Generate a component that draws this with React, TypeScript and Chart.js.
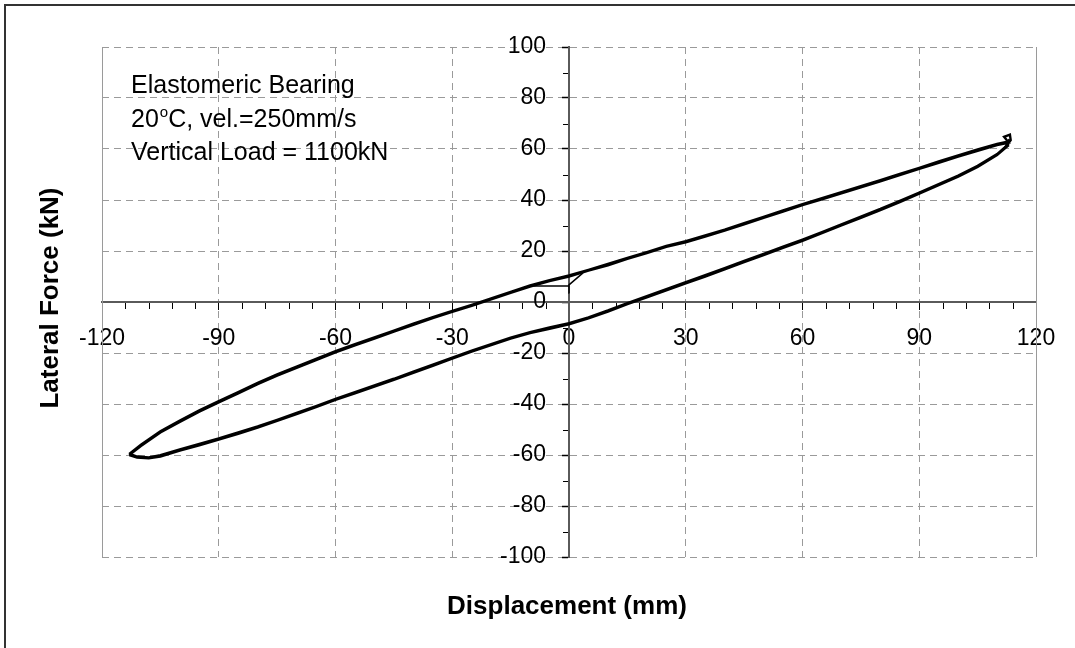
import React, { useEffect, useRef } from 'react';
import { Chart, registerables } from 'chart.js';

Chart.register(...registerables);

// ---- axis ticks ----
const xMajorTicks = [-120, -90, -60, -30, 0, 30, 60, 90, 120];
const yMajorTicks = [-100, -80, -60, -40, -20, 0, 20, 40, 60, 80, 100];

// ---- hysteresis data (displacement mm, lateral force kN) ----
const lowerX = [-113, -111, -108, -105, -100, -95, -90, -85, -80, -75, -70, -65, -60, -55, -50, -45, -40, -35, -30, -25, -20, -15, -10, -5, 0, 5, 10, 15, 20, 25, 30, 35, 40, 45, 50, 55, 60, 65, 70, 75, 80, 85, 90, 95, 100, 105, 110, 113];
const lowerF1 = [-60.0, -61.0, -61.3, -60.6, -58.3, -56.2, -54.0, -51.7, -49.3, -46.6, -44.0, -41.2, -38.4, -35.8, -33.2, -30.5, -27.8, -25.0, -22.2, -19.5, -16.9, -14.4, -12.2, -10.5, -8.8, -6.4, -3.8, -0.8, 1.8, 4.6, 7.3, 10.0, 12.8, 15.6, 18.4, 21.2, 24.0, 27.0, 30.0, 33.0, 36.0, 39.2, 42.5, 45.8, 49.2, 53.0, 57.6, 61.5];
const lowerF2 = [-59.5, -60.6, -61.0, -60.1, -57.8, -55.6, -53.5, -51.1, -48.8, -46.2, -43.5, -40.8, -38.0, -35.3, -32.7, -30.1, -27.3, -24.6, -21.8, -19.1, -16.5, -14.0, -11.8, -10.0, -8.3, -6.0, -3.3, -0.4, 2.3, 5.0, 7.8, 10.5, 13.3, 16.1, 18.9, 21.7, 24.5, 27.4, 30.4, 33.5, 36.5, 39.7, 42.9, 46.2, 49.6, 53.4, 58.0, 62.0];

const upperX = [113, 110, 105, 100, 95, 90, 85, 80, 75, 70, 65, 60, 55, 50, 45, 40, 35, 30, 25, 20, 15, 10, 5, 0, -5, -10, -15, -20, -25, -30, -35, -40, -45, -50, -55, -60, -65, -70, -75, -80, -85, -90, -95, -100, -105, -110, -113];
const upperF1 = [62.5, 61.5, 59.3, 57.0, 54.6, 52.2, 49.8, 47.3, 45.0, 42.6, 40.3, 38.0, 35.4, 33.0, 30.4, 28.0, 25.6, 23.4, 21.6, 19.2, 16.9, 14.4, 12.3, 10.0, 8.2, 6.0, 3.6, 1.0, -1.5, -3.9, -6.3, -9.0, -11.6, -14.4, -17.0, -19.8, -22.8, -25.8, -28.9, -32.2, -35.8, -39.4, -43.0, -47.0, -51.2, -56.5, -60.0];
const upperF2 = [63.0, 62.0, 59.8, 57.5, 55.1, 52.6, 50.2, 47.8, 45.4, 43.1, 40.7, 38.4, 35.9, 33.4, 30.9, 28.4, 26.1, 23.9, 22.0, 19.6, 17.3, 14.9, 12.6, 10.4, 8.6, 6.5, 4.0, 1.4, -1.1, -3.5, -5.9, -8.5, -11.2, -13.9, -16.5, -19.3, -22.3, -25.3, -28.4, -31.7, -35.3, -38.9, -42.5, -46.5, -50.7, -56.0, -59.6];

const tipX1 = [112, 113.5, 113.3, 111.8];
const tipF1 = [60.5, 63.5, 65.6, 64.8];
const tipX2 = [112.5, 113.2];
const tipF2 = [61.5, 63.8];

const startX = [0.1, 0, 3.6];
const startF = [3.5, 6.7, 11.4];
const endX = [-9.2, 0];
const endF = [6.3, 6.3];

const annotationLines = ['Elastomeric Bearing', '20', 'Vertical Load = 1100kN'];
const xTitle = 'Displacement (mm)';
const yTitle = 'Lateral Force (kN)';

const pts = (xs: number[], ys: number[]) => xs.map((x, i) => ({ x, y: ys[i] }));

const FONT = '"Liberation Sans", Arial, sans-serif';

const decorPlugin = {
  id: 'decor',
  afterDraw(chart: any) {
    const { ctx, chartArea, scales } = chart;
    const xs = scales.x;
    const ys = scales.y;
    const x0 = xs.getPixelForValue(0);
    const y0 = ys.getPixelForValue(0);
    ctx.save();
    // solid left/right plot edges
    ctx.strokeStyle = '#9a9a9a';
    ctx.lineWidth = 1;
    ctx.beginPath();
    ctx.moveTo(Math.round(chartArea.left) + 0.5, chartArea.top);
    ctx.lineTo(Math.round(chartArea.left) + 0.5, chartArea.bottom);
    ctx.moveTo(Math.round(chartArea.right) + 0.5, chartArea.top);
    ctx.lineTo(Math.round(chartArea.right) + 0.5, chartArea.bottom);
    ctx.stroke();
    // minor ticks
    ctx.strokeStyle = '#000';
    ctx.lineWidth = 1;
    ctx.beginPath();
    for (let v = -120; v <= 120; v += 6) {
      if (v % 30 === 0) continue;
      const px = Math.round(xs.getPixelForValue(v)) + 0.5;
      ctx.moveTo(px, y0 + 1);
      ctx.lineTo(px, y0 + 7);
    }
    for (let v = -90; v <= 90; v += 20) {
      const py = Math.round(ys.getPixelForValue(v)) + 0.5;
      ctx.moveTo(x0 - 1, py);
      ctx.lineTo(x0 - 6, py);
    }
    ctx.stroke();

    // outer frame
    ctx.strokeStyle = '#333';
    ctx.lineWidth = 2;
    ctx.beginPath();
    ctx.moveTo(5, chart.height);
    ctx.lineTo(5, 5);
    ctx.lineTo(chart.width, 5);
    ctx.stroke();

    // annotation
    ctx.fillStyle = '#000';
    ctx.textAlign = 'left';
    ctx.textBaseline = 'alphabetic';
    ctx.font = `25px ${FONT}`;
    const ax = 131;
    ctx.fillText(annotationLines[0], ax, 93);
    ctx.fillText(annotationLines[1], ax, 127);
    const w = ctx.measureText(annotationLines[1]).width;
    ctx.font = `15px ${FONT}`;
    ctx.fillText('o', ax + w + 1, 117);
    const wo = ctx.measureText('o').width;
    ctx.font = `25px ${FONT}`;
    ctx.fillText('C, vel.=250mm/s', ax + w + wo + 1, 127);
    ctx.fillText(annotationLines[2], ax, 160);

    // axis titles
    ctx.font = `bold 26px ${FONT}`;
    ctx.textAlign = 'center';
    ctx.fillText(xTitle, 567, 614);
    ctx.translate(58, 298);
    ctx.rotate(-Math.PI / 2);
    ctx.fillText(yTitle, 0, 0);
    ctx.restore();
  },
};

const gridColor = (c: any) => (c.tick && c.tick.value === 0 ? 'rgba(0,0,0,0)' : '#9a9a9a');

export default function App() {
  const ref = useRef<HTMLCanvasElement>(null);
  useEffect(() => {
    if (!ref.current) return;
    const line = { showLine: true, pointRadius: 0, borderColor: '#000', borderWidth: 2.4, tension: 0, fill: false };
    const chart = new Chart(ref.current, {
      type: 'scatter',
      data: {
        datasets: [
          { ...line, data: [...pts(lowerX, lowerF1), ...pts(tipX1, tipF1), ...pts(upperX, upperF1)] },
          { ...line, data: [...pts(lowerX, lowerF2), ...pts(tipX2, tipF2), ...pts(upperX, upperF2)] },
          { ...line, borderWidth: 1.5, data: pts(startX, startF) },
          { ...line, borderWidth: 1.5, data: pts(endX, endF) },
        ],
      },
      options: {
        animation: false,
        responsive: true,
        maintainAspectRatio: false,
        layout: { padding: { left: 102, right: 39, top: 47, bottom: 91 } },
        plugins: { legend: { display: false }, tooltip: { enabled: false } },
        scales: {
          x: {
            type: 'linear',
            position: { y: 0 },
            min: -120,
            max: 120,
            afterBuildTicks: (s: any) => { s.ticks = xMajorTicks.map((v) => ({ value: v })); },
            grid: { color: gridColor, lineWidth: 1, tickLength: 7, tickColor: '#000', tickWidth: 1, tickBorderDash: [] },
            border: { display: true, color: '#5a5a5a', width: 2, dash: [7, 5] },
            ticks: { color: '#000', padding: 16, font: { family: FONT, size: 23 }, maxRotation: 0, autoSkip: false },
          },
          y: {
            type: 'linear',
            position: { x: 0 },
            min: -100,
            max: 100,
            afterBuildTicks: (s: any) => { s.ticks = yMajorTicks.map((v) => ({ value: v })); },
            grid: { color: gridColor, lineWidth: 1, tickLength: 6, tickColor: '#000', tickWidth: 1.5, tickBorderDash: [] },
            border: { display: true, color: '#5a5a5a', width: 2, dash: [7, 5] },
            ticks: {
              color: '#000',
              padding: 16,
              font: { family: FONT, size: 23 },
              autoSkip: false,
              callback: (v: any) => `${v}\u2002\u2002`,
            },
          },
        },
      },
      plugins: [decorPlugin],
    } as any);
    return () => chart.destroy();
  }, []);
  return (
    <div style={{ position: 'fixed', left: 0, top: 0, width: 1075, height: 648, background: '#fff' }}>
      <canvas ref={ref} />
    </div>
  );
}
